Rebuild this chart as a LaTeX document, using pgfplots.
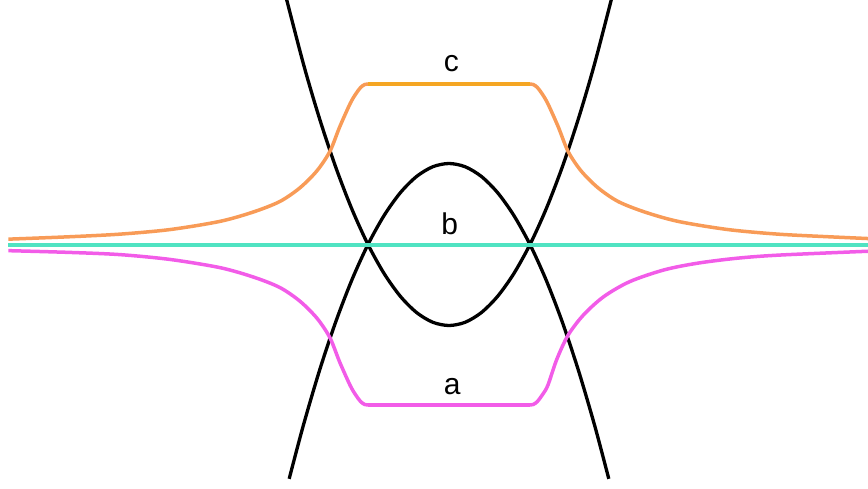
\documentclass[border=0pt]{standalone}
\usepackage{fontspec}
\setmainfont{Liberation Sans}
\usepackage{pgfplots}
\pgfplotsset{compat=1.18}

\definecolor{curveblack}{HTML}{000000}
\definecolor{flatorange}{HTML}{F5A623}
\definecolor{curveorange}{HTML}{F89B57}
\definecolor{lineteal}{HTML}{50E3C2}
\definecolor{curvemagenta}{HTML}{F25CE8}

\begin{document}
\begin{tikzpicture}
\path[use as bounding box] (0,0) rectangle (868pt,488pt);
\begin{axis}[
    at={(0,0)}, anchor=south west,
    width=868pt, height=488pt,
    scale only axis,
    xmin=-5.543, xmax=5.173,
    ymin=-3.006, ymax=3.0185,
    axis lines=none,
    ticks=none,
    clip=true,
]
% upward parabola
\addplot[curveblack, line width=3.3pt, smooth] coordinates {
    (-2.05,3.2025) (-1.8,2.24) (-1.6,1.56) (-1.4,0.96) (-1.2,0.44) (-1.0,0)
    (-0.8,-0.36) (-0.6,-0.64) (-0.4,-0.84) (-0.2,-0.96) (0,-1)
    (0.2,-0.96) (0.4,-0.84) (0.6,-0.64) (0.8,-0.36) (1.0,0)
    (1.2,0.44) (1.4,0.96) (1.6,1.56) (1.8,2.24) (2.05,3.2025)
};
% downward parabola
\addplot[curveblack, line width=3.3pt, smooth] coordinates {
    (-1.973,-2.893) (-1.8,-2.24) (-1.6,-1.56) (-1.4,-0.96) (-1.2,-0.44) (-1.0,0)
    (-0.8,0.36) (-0.6,0.64) (-0.4,0.84) (-0.2,0.96) (0,1)
    (0.2,0.96) (0.4,0.84) (0.6,0.64) (0.8,0.36) (1.0,0)
    (1.2,-0.44) (1.4,-0.96) (1.6,-1.56) (1.8,-2.24) (1.973,-2.893)
};
% b
\addplot[lineteal, line width=4pt] coordinates {(-5.44,0) (5.3,0)};
% c
\addplot[curveorange, line width=3.5pt, smooth] coordinates {
    (-5.44,0.066) (-4.7,0.095) (-4.06,0.128) (-3.44,0.185) (-2.83,0.285)
    (-2.42,0.40) (-2.09,0.53) (-1.84,0.70) (-1.63,0.91) (-1.47,1.15)
    (-1.35,1.45) (-1.22,1.74) (-1.15,1.86) (-1.09,1.94) (-1.04,1.975) (-1.0,1.98)
};
\addplot[curveorange, line width=3.5pt, smooth] coordinates {
    (1.0,1.98) (1.04,1.975) (1.09,1.94) (1.15,1.86) (1.22,1.74) (1.35,1.45)
    (1.47,1.15) (1.63,0.91) (1.84,0.70) (2.09,0.53) (2.42,0.40) (2.83,0.285)
    (3.44,0.185) (4.06,0.128) (4.7,0.095) (5.3,0.068)
};
\addplot[flatorange, line width=3.5pt] coordinates {(-1.0,1.98) (1.0,1.98)};
% a
\addplot[curvemagenta, line width=3.5pt, smooth] coordinates {
    (-5.44,-0.076) (-4.7,-0.097) (-4.06,-0.125) (-3.44,-0.185) (-2.83,-0.285)
    (-2.42,-0.40) (-2.09,-0.53) (-1.84,-0.70) (-1.63,-0.91) (-1.47,-1.15)
    (-1.35,-1.45) (-1.22,-1.74) (-1.15,-1.86) (-1.09,-1.94) (-1.04,-1.975) (-1.0,-1.98)
};
\addplot[curvemagenta, line width=3.5pt, smooth] coordinates {
    (1.0,-1.98) (1.04,-1.975) (1.09,-1.94) (1.15,-1.86) (1.22,-1.74) (1.33,-1.42)
    (1.47,-1.12) (1.66,-0.87) (1.91,-0.644) (2.23,-0.459) (2.65,-0.315)
    (3.06,-0.232) (3.55,-0.170) (4.09,-0.130) (5.3,-0.078)
};
\addplot[curvemagenta, line width=3.5pt] coordinates {(-1.0,-1.98) (1.0,-1.98)};
\node[anchor=base, font=\fontsize{30}{36}\selectfont] at (axis cs:0.03,2.133) {c};
\node[anchor=base, font=\fontsize{30}{36}\selectfont] at (axis cs:0.01,0.126) {b};
\node[anchor=base, font=\fontsize{30}{36}\selectfont] at (axis cs:0.04,-1.846) {a};
\end{axis}
\end{tikzpicture}
\end{document}
